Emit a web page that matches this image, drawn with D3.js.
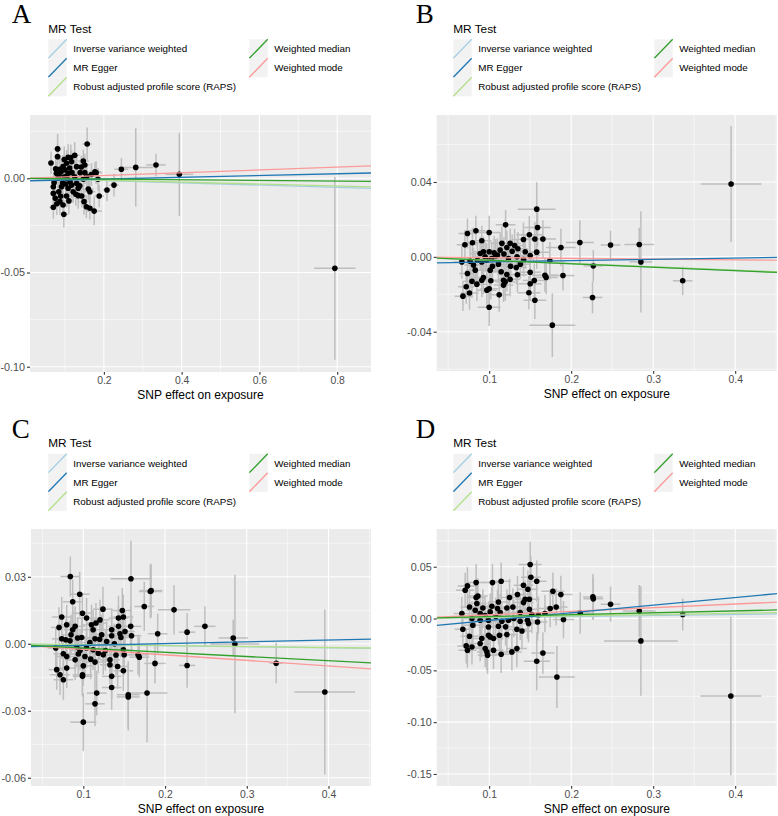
<!DOCTYPE html>
<html><head><meta charset="utf-8">
<script src="https://cdn.jsdelivr.net/npm/d3@7"></script>
<style>body{margin:0;background:#fff}svg{display:block}</style>
</head><body>
<svg id="chart" width="778" height="816"></svg>
<script>
// ---------------- DATA ----------------
const methods = ["Inverse variance weighted","MR Egger","Robust adjusted profile score (RAPS)","Weighted median","Weighted mode"];
const methodColors = ["#A6CEE3","#1F78B4","#B2DF8A","#33A02C","#FB9A99"];
const legendTitle = "MR Test";
const xAxisTitle = "SNP effect on exposure";
const panelLetters = ["A","B","C","D"];

// Panel A
const aExp = [0.157,0.081,0.081,0.064,0.108,0.125,0.147,0.151,0.177,0.185,0.245,0.282,0.334,0.394,0.794,0.226,0.208,0.188,0.175,0.164,0.155,0.149,0.134,0.143,0.160,0.070,0.097,0.095,0.087,0.104,0.075,0.070,0.084,0.091,0.117,0.130,0.113,0.072,0.078,0.087,0.095,0.104,0.117,0.130,0.139,0.151,0.147,0.125,0.108,0.099,0.082,0.070,0.121,0.108,0.134,0.164,0.090,0.100,0.112,0.094,0.085,0.076,0.118,0.102,0.128,0.098,0.138,0.115,0.089,0.079,0.142,0.156,0.110,0.168,0.180,0.105];
const aOut = [0.0182,0.0156,0.0115,0.0081,0.0111,0.0122,0.0092,0.0071,0.0035,-0.0005,0.0048,0.0058,0.0071,0.0021,-0.0478,-0.0036,-0.0062,-0.0094,-0.0174,-0.0159,-0.0151,-0.0124,-0.0092,-0.0094,-0.0057,-0.0154,-0.0191,-0.0142,-0.0124,-0.0094,-0.0106,-0.008,-0.0071,-0.0045,-0.0036,-0.0027,-0.0018,-0.0023,0.0027,0.0048,0.0062,0.008,0.0088,0.0062,0.003,0.003,-0.0005,0.0008,0.0027,0.0008,0.0,-0.0045,-0.0071,-0.0053,-0.0053,-0.0071,0.0035,0.0045,0.0055,-0.0025,0.0015,0.005,0.003,-0.003,-0.0085,0.01,-0.004,0.011,-0.0095,-0.0135,0.006,0.001,-0.012,0.002,0.003,0.0];
const aExpSe = [0.012,0.010,0.010,0.008,0.015,0.012,0.014,0.012,0.015,0.020,0.018,0.045,0.025,0.036,0.053,0.012,0.010,0.012,0.020,0.012,0.010,0.012,0.012,0.012,0.014,0.010,0.012,0.012,0.010,0.012,0.008,0.008,0.010,0.010,0.012,0.012,0.012,0.008,0.008,0.010,0.010,0.012,0.012,0.012,0.012,0.014,0.012,0.012,0.012,0.010,0.010,0.008,0.012,0.012,0.012,0.014,0.010,0.011,0.012,0.010,0.009,0.008,0.012,0.011,0.012,0.010,0.013,0.012,0.010,0.009,0.013,0.014,0.012,0.015,0.016,0.011];
const aOutSe = [0.0088,0.008,0.007,0.006,0.007,0.007,0.006,0.006,0.005,0.006,0.006,0.0208,0.006,0.022,0.0485,0.006,0.006,0.006,0.0075,0.006,0.006,0.007,0.007,0.006,0.006,0.006,0.007,0.007,0.006,0.006,0.006,0.006,0.006,0.006,0.007,0.006,0.006,0.005,0.006,0.006,0.006,0.007,0.006,0.006,0.006,0.006,0.006,0.006,0.006,0.006,0.006,0.006,0.006,0.006,0.006,0.006,0.006,0.007,0.006,0.006,0.005,0.006,0.007,0.006,0.006,0.007,0.006,0.007,0.006,0.006,0.006,0.006,0.007,0.006,0.006,0.006];
const aSlopes = [-0.0060,0.0047,-0.0051,-0.0018,0.0074];
const aIntercepts = [0,-0.00135,0,0,0];
const aXTicks = [0.2,0.4,0.6,0.8], aXTickLabels = ["0.2","0.4","0.6","0.8"];
const aYTicks = [0,-0.05,-0.10], aYTickLabels = ["0.00","-0.05","-0.10"];

// Panel B
const bExp = [0.395,0.336,0.283,0.285,0.248,0.2106,0.227,0.226,0.177,0.158,
 0.120,0.0735,0.0838,0.100,0.0704,0.0796,0.091,0.1155,0.1256,0.1418,0.149,0.159,0.1557,0.1655,0.158,0.1875,0.174,0.19,0.168,0.1695,0.155,0.1557,0.1484,0.150,0.150,0.1345,0.138,0.133,0.135,0.134,0.144,0.150,0.1235,0.1216,0.1134,0.1113,0.1146,0.1195,0.1175,0.1216,0.1122,0.100,0.0972,0.100,0.1012,0.106,0.100,0.093,0.089,0.0857,0.0809,0.083,0.0735,0.079,0.085,0.072,0.076,0.068,0.0667,0.0768,0.091,0.093,0.091,0.102,0.1175,0.103,0.097,
 0.108,0.118,0.128,0.104,0.095,0.142,0.126,0.110,0.131,0.1255];
const bOut = [0.0389,-0.0128,0.0066,-0.0027,0.0063,0.0077,-0.0048,-0.0217,-0.0365,0.0255,
 0.0171,0.0125,0.0139,0.0130,0.0064,0.0075,0.0086,0.0072,0.0072,0.0093,0.0118,0.0157,0.0095,0.0095,0.0025,0.005,-0.0021,-0.01,-0.0098,-0.011,-0.0126,-0.0232,-0.0192,-0.0144,-0.0082,-0.0096,-0.0039,-0.0057,0.0043,0.0,0.0027,0.0007,-0.0009,0.005,0.0036,-0.0039,-0.008,-0.0134,-0.0151,-0.0094,-0.0203,-0.0269,-0.0178,-0.0171,-0.0071,0.0021,0.0027,0.0027,0.0018,-0.0018,-0.0044,-0.0071,-0.0089,-0.013,-0.0146,-0.016,-0.0193,-0.021,-0.0027,-0.0023,-0.0027,-0.011,-0.0125,-0.0128,-0.0125,-0.0009,-0.0018,
 0.0005,0.0015,0.003,-0.005,0.0,-0.0015,-0.005,0.001,0.006,-0.012];
const bExpSe = [0.037,0.012,0.018,0.014,0.012,0.017,0.012,0.012,0.028,0.023,
 0.012,0.011,0.012,0.014,0.010,0.011,0.012,0.014,0.013,0.014,0.016,0.016,0.014,0.016,0.015,0.018,0.020,0.014,0.016,0.014,0.014,0.014,0.014,0.014,0.013,0.012,0.012,0.013,0.012,0.012,0.013,0.012,0.012,0.011,0.012,0.012,0.013,0.012,0.012,0.012,0.012,0.014,0.012,0.011,0.012,0.012,0.013,0.012,0.012,0.011,0.011,0.011,0.010,0.011,0.012,0.010,0.011,0.010,0.010,0.011,0.012,0.012,0.011,0.012,0.012,0.012,0.012,
 0.012,0.012,0.013,0.012,0.011,0.013,0.012,0.012,0.013,0.012];
const bOutSe = [0.031,0.0076,0.009,0.027,0.0077,0.0118,0.0085,0.0085,0.017,0.0143,
 0.008,0.008,0.008,0.009,0.008,0.008,0.008,0.009,0.008,0.009,0.010,0.010,0.009,0.010,0.009,0.010,0.010,0.008,0.009,0.009,0.009,0.010,0.009,0.009,0.009,0.009,0.008,0.009,0.009,0.009,0.009,0.008,0.009,0.009,0.009,0.009,0.009,0.010,0.009,0.009,0.009,0.010,0.009,0.009,0.009,0.009,0.009,0.008,0.009,0.009,0.009,0.009,0.009,0.009,0.009,0.009,0.009,0.008,0.009,0.009,0.009,0.009,0.009,0.010,0.009,0.009,0.009,
 0.009,0.009,0.009,0.009,0.008,0.009,0.009,0.009,0.009,0.009];
const bSlopes = [-0.0180,0.0070,-0.0178,-0.0185,-0.0040];
const bIntercepts = [0,-0.00345,0,0,0];
const bXTicks = [0.1,0.2,0.3,0.4], bXTickLabels = ["0.1","0.2","0.3","0.4"];
const bYTicks = [0.04,0,-0.04], bYTickLabels = ["0.04","0.00","-0.04"];

// Panel C
const cExp = [0.3955,0.336,0.2834,0.2855,0.2488,0.227,0.227,0.211,
 0.0841,0.1583,0.182,0.183,0.0956,0.087,0.1746,0.124,0.099,0.104,0.1477,0.149,0.143,0.0736,0.1155,0.1204,0.110,0.112,0.0797,0.0703,0.090,0.087,0.085,0.1347,0.143,0.151,0.158,0.159,0.191,0.1449,0.1347,0.1225,0.098,0.093,0.0736,0.0785,0.0837,0.1286,0.1143,0.146,0.0663,0.0756,0.0797,0.092,0.0939,0.102,0.090,0.104,0.112,0.1183,0.1244,0.109,0.1143,0.1326,0.1326,0.142,0.149,0.150,0.167,0.1685,0.1877,0.100,0.099,0.099,0.0797,0.0675,0.0715,0.0756,0.1347,0.1347,0.149,0.1164,0.1143,0.155,0.155,0.178,0.100,
 0.120,0.127,0.108,0.138,0.096,0.140];
const cOut = [-0.0216,-0.0087,0.0026,-0.0001,0.0078,0.0052,-0.0097,0.0152,
 0.0301,0.0291,0.0234,0.0238,0.0222,0.0188,0.0167,0.0155,0.0137,0.0115,0.0149,0.012,0.0115,0.012,0.0093,0.0107,0.0085,0.0063,0.0085,0.0073,0.0078,0.0063,0.004,0.0063,0.0078,0.0055,0.0078,0.0036,0.0045,0.0045,0.0036,0.004,0.0028,0.0026,0.0022,0.0018,0.0013,0.001,0.0022,0.0028,-0.0019,-0.0045,-0.0057,-0.0015,-0.0046,-0.0057,-0.0072,-0.0019,-0.0027,-0.0042,-0.0049,-0.0069,-0.0082,-0.0072,-0.0094,-0.0102,-0.0027,-0.0049,-0.0049,-0.006,-0.0088,-0.0099,-0.0139,-0.0146,-0.0109,-0.0116,-0.0139,-0.0161,-0.0146,-0.0196,-0.0121,-0.0221,-0.0269,-0.0228,-0.0238,-0.0221,-0.0351,
 0.002,-0.003,0.0005,0.0,-0.003,-0.005];
const cExpSe = [0.037,0.008,0.018,0.030,0.013,0.010,0.010,0.020,
 0.012,0.025,0.014,0.014,0.012,0.012,0.012,0.012,0.012,0.012,0.012,0.012,0.012,0.012,0.012,0.012,0.012,0.012,0.012,0.010,0.012,0.011,0.012,0.012,0.012,0.012,0.013,0.012,0.012,0.012,0.012,0.012,0.012,0.011,0.012,0.011,0.012,0.012,0.012,0.012,0.010,0.012,0.012,0.012,0.012,0.012,0.012,0.012,0.012,0.012,0.012,0.012,0.012,0.012,0.012,0.012,0.012,0.012,0.013,0.012,0.013,0.012,0.012,0.012,0.012,0.010,0.012,0.012,0.012,0.012,0.012,0.012,0.012,0.014,0.014,0.025,0.016,
 0.012,0.012,0.012,0.012,0.012,0.012];
const cOutSe = [0.037,0.009,0.0082,0.031,0.009,0.0086,0.010,0.011,
 0.009,0.017,0.012,0.012,0.010,0.010,0.011,0.010,0.009,0.009,0.010,0.010,0.010,0.009,0.009,0.009,0.009,0.009,0.009,0.009,0.009,0.009,0.009,0.009,0.009,0.009,0.009,0.009,0.009,0.009,0.009,0.009,0.009,0.009,0.009,0.009,0.009,0.009,0.009,0.009,0.009,0.009,0.009,0.009,0.009,0.009,0.009,0.009,0.009,0.009,0.009,0.009,0.009,0.009,0.009,0.010,0.009,0.009,0.009,0.009,0.009,0.009,0.009,0.009,0.009,0.009,0.009,0.009,0.010,0.010,0.009,0.010,0.010,0.015,0.015,0.022,0.013,
 0.009,0.009,0.009,0.009,0.009,0.009];
const cSlopes = [-0.0045,0.0079,-0.0042,-0.0190,-0.0248];
const cIntercepts = [0,-0.0015,0,0,0];
const cXTicks = [0.1,0.2,0.3,0.4], cXTickLabels = ["0.1","0.2","0.3","0.4"];
const cYTicks = [0.03,0,-0.03,-0.06], cYTickLabels = ["0.03","0.00","-0.03","-0.06"];

// Panel D
const dExp = [0.3947,0.336,0.285,0.283,0.248,0.2265,0.227,0.211,
 0.15,0.1508,0.158,0.1146,0.104,0.0841,0.0735,0.0707,0.1418,0.1472,0.1777,0.1874,0.1345,0.1248,0.0862,0.0841,0.1439,0.149,0.1418,0.085,0.1113,0.1744,0.1817,0.076,0.0923,0.1033,0.1101,0.1216,0.1289,0.149,0.083,0.0667,0.089,0.1012,0.1134,0.1378,0.152,0.160,0.168,0.079,0.089,0.0991,0.1155,0.1235,0.1378,0.1467,0.148,0.159,0.1906,0.080,0.0991,0.1113,0.1338,0.0679,0.076,0.091,0.0991,0.1012,0.1053,0.1126,0.1216,0.089,0.072,0.0735,0.079,0.0951,0.0972,0.1053,0.098,0.1146,0.1277,0.1338,0.1655,0.158,0.1826,
 0.108,0.120,0.130,0.095,0.140];
const dOut = [-0.0747,0.0039,-0.0216,0.0073,0.0138,0.0209,0.019,0.0054,
 0.0521,0.0399,0.036,0.036,0.0347,0.0347,0.0315,0.0273,0.0321,0.0283,0.0264,0.0232,0.0232,0.0203,0.0218,0.0203,0.0186,0.0186,0.0154,0.0145,0.016,0.0097,0.0112,0.0112,0.0102,0.0119,0.0097,0.0102,0.0112,0.009,0.008,0.0048,0.0048,0.0064,0.0058,0.0058,0.0039,0.0032,0.0048,0.0,-0.0016,-0.0016,-0.0026,-0.0016,-0.0026,-0.0016,-0.0048,-0.0033,-0.001,-0.0065,-0.0081,-0.0074,-0.0103,-0.0103,-0.0171,-0.0193,-0.0161,-0.0177,-0.0193,-0.0161,-0.0155,-0.0241,-0.0264,-0.0306,-0.0274,-0.029,-0.0322,-0.0306,-0.0354,-0.0345,-0.0322,-0.029,-0.0332,-0.0412,-0.0564,
 0.002,-0.008,0.0,0.003,-0.012];
const dExpSe = [0.037,0.008,0.045,0.020,0.012,0.012,0.012,0.014,
 0.014,0.012,0.012,0.012,0.012,0.012,0.012,0.011,0.012,0.012,0.014,0.014,0.012,0.012,0.012,0.011,0.012,0.012,0.012,0.012,0.012,0.014,0.014,0.011,0.012,0.012,0.012,0.012,0.012,0.012,0.011,0.010,0.012,0.012,0.012,0.012,0.012,0.012,0.013,0.011,0.012,0.012,0.012,0.012,0.012,0.012,0.012,0.012,0.013,0.011,0.012,0.012,0.012,0.010,0.011,0.012,0.012,0.012,0.012,0.012,0.012,0.012,0.011,0.011,0.011,0.012,0.012,0.012,0.012,0.012,0.012,0.012,0.014,0.016,0.022,
 0.012,0.012,0.012,0.012,0.012];
const dOutSe = [0.0765,0.0155,0.053,0.025,0.017,0.022,0.020,0.020,
 0.022,0.020,0.020,0.018,0.018,0.018,0.018,0.017,0.018,0.018,0.018,0.018,0.018,0.018,0.017,0.017,0.018,0.018,0.018,0.017,0.018,0.018,0.018,0.017,0.018,0.018,0.018,0.018,0.018,0.018,0.017,0.016,0.017,0.018,0.018,0.018,0.018,0.018,0.018,0.017,0.017,0.018,0.018,0.018,0.018,0.018,0.018,0.018,0.018,0.017,0.018,0.018,0.018,0.017,0.017,0.018,0.018,0.018,0.018,0.018,0.018,0.017,0.017,0.017,0.017,0.018,0.018,0.018,0.018,0.018,0.018,0.018,0.020,0.028,0.030,
 0.018,0.018,0.018,0.018,0.018];
const dSlopes = [0.0098,0.0737,0.0125,0.0184,0.0350];
const dIntercepts = [0,-0.0092,0,0,0];
const dXTicks = [0.1,0.2,0.3,0.4], dXTickLabels = ["0.1","0.2","0.3","0.4"];
const dYTicks = [0.05,0,-0.05,-0.10,-0.15], dYTickLabels = ["0.05","0.00","-0.05","-0.10","-0.15"];

// ---------------- LAYOUT ----------------
const panels = [
  {exp:aExp,out:aOut,sx:aExpSe,sy:aOutSe,slopes:aSlopes,icpts:aIntercepts,xt:aXTicks,xl:aXTickLabels,yt:aYTicks,yl:aYTickLabels,
   xMinor:[0.1,0.3,0.5,0.7],yMinor:[0.025,-0.025,-0.075],
   xd:[0.01,0.887],yd:[-0.1028,0.0336],box:[30,115,371,372],leg:[48.3,0],letterX:11.7},
  {exp:bExp,out:bOut,sx:bExpSe,sy:bOutSe,slopes:bSlopes,icpts:bIntercepts,xt:bXTicks,xl:bXTickLabels,yt:bYTicks,yl:bYTickLabels,
   xMinor:[0.05,0.15,0.25,0.35,0.45],yMinor:[0.06,0.02,-0.02,-0.06],
   xd:[0.036,0.451],yd:[-0.061,0.0758],box:[436.7,115,777,371],leg:[453.3,0],letterX:415.7},
  {exp:cExp,out:cOut,sx:cExpSe,sy:cOutSe,slopes:cSlopes,icpts:cIntercepts,xt:cXTicks,xl:cXTickLabels,yt:cYTicks,yl:cYTickLabels,
   xMinor:[0.05,0.15,0.25,0.35,0.45],yMinor:[0.045,0.015,-0.015,-0.045],
   xd:[0.036,0.452],yd:[-0.0637,0.0514],box:[31,529,371,786],leg:[48.3,414.5],letterX:11.7},
  {exp:dExp,out:dOut,sx:dExpSe,sy:dOutSe,slopes:dSlopes,icpts:dIntercepts,xt:dXTicks,xl:dXTickLabels,yt:dYTicks,yl:dYTickLabels,
   xMinor:[0.05,0.15,0.25,0.35,0.45],yMinor:[0.075,0.025,-0.025,-0.075,-0.125],
   xd:[0.036,0.451],yd:[-0.1616,0.0864],box:[436.7,529,777,786],leg:[453.3,414.5],letterX:415.7}
];

const svg = d3.select("#chart");
svg.append("rect").attr("width",778).attr("height",816).attr("fill","#fff");
const FONT = "'Liberation Sans', Arial, Helvetica, sans-serif";
const lineOrder = [0,2,4,1,3];

panels.forEach((p,pi) => {
  const [L,T,R,B] = p.box;
  const x = d3.scaleLinear().domain(p.xd).range([L,R]);
  const y = d3.scaleLinear().domain(p.yd).range([B,T]);
  const g = svg.append("g");

  g.append("rect").attr("x",L).attr("y",T).attr("width",R-L).attr("height",B-T).attr("fill","#EBEBEB");
  g.selectAll(null).data(p.xMinor.filter(v=>v>p.xd[0]&&v<p.xd[1])).join("line")
    .attr("x1",d=>x(d)).attr("x2",d=>x(d)).attr("y1",T).attr("y2",B).attr("stroke","#fff").attr("stroke-width",0.55);
  g.selectAll(null).data(p.yMinor.filter(v=>v>p.yd[0]&&v<p.yd[1])).join("line")
    .attr("y1",d=>y(d)).attr("y2",d=>y(d)).attr("x1",L).attr("x2",R).attr("stroke","#fff").attr("stroke-width",0.55);
  g.selectAll(null).data(p.xt).join("line")
    .attr("x1",d=>x(d)).attr("x2",d=>x(d)).attr("y1",T).attr("y2",B).attr("stroke","#fff").attr("stroke-width",1.1);
  g.selectAll(null).data(p.yt).join("line")
    .attr("y1",d=>y(d)).attr("y2",d=>y(d)).attr("x1",L).attr("x2",R).attr("stroke","#fff").attr("stroke-width",1.1);

  const clipId = "clip"+pi;
  svg.append("clipPath").attr("id",clipId).append("rect").attr("x",L).attr("y",T).attr("width",R-L).attr("height",B-T);
  const pg = g.append("g").attr("clip-path",`url(#${clipId})`);

  const pts = p.exp.map((v,i)=>({bx:v,by:p.out[i],sx:p.sx[i],sy:p.sy[i]}));
  pg.selectAll(null).data(pts).join("line")
    .attr("x1",d=>x(d.bx)).attr("x2",d=>x(d.bx)).attr("y1",d=>y(d.by-d.sy)).attr("y2",d=>y(d.by+d.sy))
    .attr("stroke","#BEBEBE").attr("stroke-width",1.5);
  pg.selectAll(null).data(pts).join("line")
    .attr("y1",d=>y(d.by)).attr("y2",d=>y(d.by)).attr("x1",d=>x(d.bx-d.sx)).attr("x2",d=>x(d.bx+d.sx))
    .attr("stroke","#BEBEBE").attr("stroke-width",1.5);
  pg.selectAll(null).data(pts).join("circle")
    .attr("cx",d=>x(d.bx)).attr("cy",d=>y(d.by)).attr("r",2.8).attr("fill","#000");
  pg.selectAll(null).data(lineOrder).join("line")
    .attr("x1",x(p.xd[0])).attr("x2",x(p.xd[1]))
    .attr("y1",m=>y(p.icpts[m]+p.slopes[m]*p.xd[0]))
    .attr("y2",m=>y(p.icpts[m]+p.slopes[m]*p.xd[1]))
    .attr("stroke",m=>methodColors[m]).attr("stroke-width",1.3);

  const ya = g.append("g").attr("transform",`translate(${L},0)`)
    .call(d3.axisLeft(y).tickValues(p.yt).tickFormat((d,i)=>p.yl[i]).tickSize(3).tickPadding(2));
  const xa = g.append("g").attr("transform",`translate(0,${B})`)
    .call(d3.axisBottom(x).tickValues(p.xt).tickFormat((d,i)=>p.xl[i]).tickSize(2.7).tickPadding(2));
  [ya,xa].forEach(a=>{
    a.select(".domain").remove();
    a.selectAll(".tick line").attr("stroke","#333").attr("stroke-width",1.1);
    a.selectAll(".tick text").attr("fill","#4D4D4D").style("font-family",FONT);
  });
  ya.selectAll(".tick text").style("font-size","10.8px");
  xa.selectAll(".tick text").style("font-size","10.4px");

  g.append("text").attr("x",(L+R)/2).attr("y",B+27.3).attr("text-anchor","middle")
    .style("font-family",FONT).style("font-size","12px").attr("fill","#000").text(xAxisTitle);

  const oy = p.leg[1];
  g.append("text").attr("x",p.letterX).attr("y",23.3+oy)
    .style("font-family","'Liberation Serif','Times New Roman',serif").style("font-size","27px").attr("fill","#000")
    .text(panelLetters[pi]);

  const lx = p.leg[0];
  g.append("text").attr("x",lx).attr("y",32.5+oy).style("font-family",FONT).style("font-size","11.8px").attr("fill","#000").text(legendTitle);
  const keyW = 18.4, keyH = 19, rowTop = 39.3+oy, col2 = lx + 201;
  methods.forEach((m,i)=>{
    const col = i<3 ? 0 : 1;
    const row = i<3 ? i : i-3;
    const kx = col===0 ? lx : col2;
    const ky = rowTop + row*keyH;
    g.append("rect").attr("x",kx).attr("y",ky).attr("width",keyW).attr("height",keyH).attr("fill","#F2F2F2");
    g.append("line").attr("x1",kx).attr("y1",ky+keyH).attr("x2",kx+keyW).attr("y2",ky)
      .attr("stroke",methodColors[i]).attr("stroke-width",1.3);
    g.append("text").attr("x",kx+keyW+6.6).attr("y",ky+keyH/2).attr("dy","0.35em")
      .style("font-family",FONT).style("font-size","9.8px").attr("fill","#000").text(m);
  });
});
</script>
</body></html>
